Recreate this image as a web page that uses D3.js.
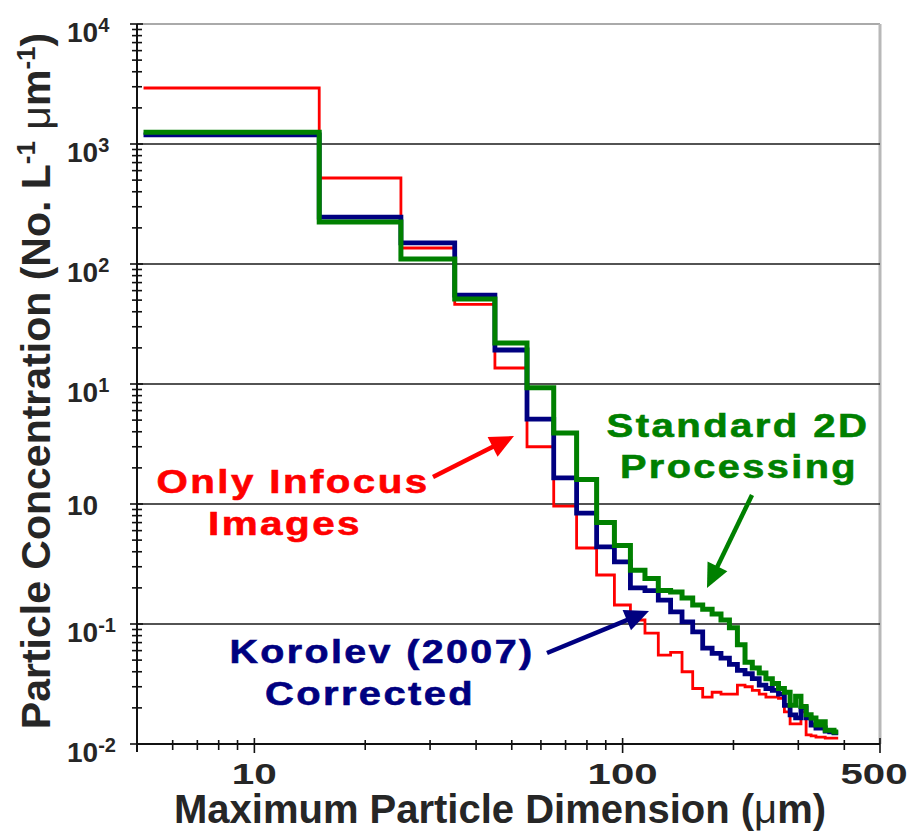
<!DOCTYPE html>
<html>
<head>
<meta charset="utf-8">
<title>Particle size distribution</title>
<style>
body { margin: 0; background: #fff; }
svg text { font-family: "Liberation Sans", Arial, sans-serif; font-weight: bold; }
.grid { stroke: #1a1a1a; stroke-width: 1.5; }
.axisline { stroke: #111; stroke-width: 2; }
.tick { stroke: #111; stroke-width: 1.6; }
.lbl { fill: #262626; }
</style>
</head>
<body>
<script src="https://cdn.jsdelivr.net/npm/d3@7"></script>
<script>
// bin edges (um) of the size bins
var edges = [5, 15, 25, 35, 45, 55, 65, 75, 85, 95, 105, 115, 125, 135, 145, 155, 165, 175, 185, 195,
             205, 215, 225, 235, 245, 255, 265, 275, 285, 295, 305, 315, 325, 335, 345, 355, 365, 375, 385];

// concentrations (No. L-1 um-1), one value per bin
var infocus = [2930, 521, 136, 46, 13.6, 3.0, 0.96, 0.43, 0.256, 0.144, 0.108, 0.084, 0.055, 0.058, 0.040,
               0.029, 0.0246, 0.027, 0.026, 0.026, 0.031, 0.030, 0.028, 0.026, 0.0246, 0.0246, 0.024,
               0.0185, 0.0147, 0.0147, 0.0185, 0.0119, 0.0117, 0.0114, 0.0114, 0.0112, 0.0112, 0.0112];
var korolev = [1190, 246, 150, 55, 19.2, 5.1, 1.65, 0.84, 0.44, 0.33, 0.20, 0.19, 0.158, 0.126, 0.104,
               0.086, 0.063, 0.057, 0.052, 0.046, 0.041, 0.0385, 0.035, 0.031, 0.029, 0.028, 0.026,
               0.021, 0.0175, 0.0165, 0.020, 0.0165, 0.0144, 0.0136, 0.0136, 0.0128, 0.0126, 0.0124];
var standard = [1250, 224, 110, 51, 22, 9.3, 3.9, 1.6, 0.70, 0.45, 0.28, 0.24, 0.19, 0.185, 0.165,
                0.144, 0.133, 0.121, 0.108, 0.093, 0.067, 0.048, 0.043, 0.039, 0.035, 0.032, 0.029,
                0.027, 0.021, 0.025, 0.0205, 0.0175, 0.0165, 0.0144, 0.0153, 0.013, 0.013, 0.0126];

var yTickVals = [1e4, 1e3, 1e2, 1e1, 1, 0.1, 0.01];
var yTickSup = ["4", "3", "2", "1", "", "-1", "-2"];
var xTickVals = [10, 100, 500];
var xTickLabels = ["10", "100", "500"];
var xMinor = [6, 7, 8, 9, 20, 30, 40, 50, 60, 70, 80, 90, 200, 300, 400];

var width = 914, height = 834;
var plotL = 137, plotR = 880, plotT = 24, plotB = 744;

var svg = d3.select("body").append("svg")
	.attr("width", width)
	.attr("height", height);

var x = d3.scaleLog().domain([4.8, 500]).range([plotL, plotR]);
var y = d3.scaleLog().domain([0.01, 10000]).range([plotB, plotT]);

// frame: gray top + right, black grid lines
svg.append("line").attr("x1", plotL).attr("x2", plotR).attr("y1", plotT).attr("y2", plotT)
	.attr("stroke", "#aaa").attr("stroke-width", 2);
svg.append("line").attr("x1", plotR).attr("x2", plotR).attr("y1", plotT).attr("y2", plotB)
	.attr("stroke", "#b8b8b8").attr("stroke-width", 3);

svg.selectAll(".grid")
	.data(yTickVals.slice(1, -1))
	.enter().append("line")
	.attr("class", "grid")
	.attr("x1", plotL).attr("x2", plotR)
	.attr("y1", function(d){ return y(d); })
	.attr("y2", function(d){ return y(d); });

// y axis with log ticks
svg.append("line").attr("class", "axisline")
	.attr("x1", plotL).attr("x2", plotL).attr("y1", plotT).attr("y2", plotB + 8);
var yMinor = [];
for (var p = -2; p < 4; p++) {
	for (var m = 2; m <= 9; m++) yMinor.push(m * Math.pow(10, p));
}
svg.selectAll(".ytick")
	.data(yMinor.concat(yTickVals))
	.enter().append("line")
	.attr("class", "tick")
	.attr("x1", function(d){ return yTickVals.indexOf(d) >= 0 ? plotL - 7 : plotL - 5; })
	.attr("x2", function(d){ return yTickVals.indexOf(d) >= 0 ? plotL + 6 : plotL + 5; })
	.attr("y1", function(d){ return y(d); })
	.attr("y2", function(d){ return y(d); });

var ylab = svg.selectAll(".ylab")
	.data(yTickVals)
	.enter().append("text")
	.attr("class", "lbl")
	.attr("x", 67)
	.attr("y", function(d, i){ return y(d) + (yTickSup[i] ? 18 : 11); })
	.attr("font-size", 28);
ylab.append("tspan").text("10");
ylab.append("tspan")
	.attr("font-size", 20)
	.attr("dy", -10)
	.text(function(d, i){ return yTickSup[i]; });

// x axis
svg.append("line").attr("class", "axisline")
	.attr("x1", plotL).attr("x2", plotR).attr("y1", plotB).attr("y2", plotB);
svg.selectAll(".xminor")
	.data(xMinor)
	.enter().append("line")
	.attr("class", "tick")
	.attr("x1", function(d){ return x(d); }).attr("x2", function(d){ return x(d); })
	.attr("y1", plotB - 4).attr("y2", plotB + 6);
svg.selectAll(".xmajor")
	.data(xTickVals)
	.enter().append("line")
	.attr("class", "tick")
	.attr("x1", function(d){ return x(d); }).attr("x2", function(d){ return x(d); })
	.attr("y1", plotB - 6).attr("y2", plotB + 9);
svg.selectAll(".xlab")
	.data(xTickVals)
	.enter().append("text")
	.attr("class", "lbl")
	.attr("x", function(d, i){ return x(d) - (i == 2 ? 6 : 0); })
	.attr("y", 784)
	.attr("font-size", 30)
	.attr("text-anchor", "middle")
	.attr("textLength", function(d, i){ return [45, 70, 67][i]; })
	.attr("lengthAdjust", "spacingAndGlyphs")
	.text(function(d, i){ return xTickLabels[i]; });

// axis titles
var xt = svg.append("text").attr("class", "lbl")
	.attr("x", 500).attr("y", 823)
	.attr("font-size", 40)
	.attr("text-anchor", "middle");
xt.append("tspan").text("Maximum Particle Dimension (");
xt.append("tspan").attr("font-weight", "normal").text("\u03bc");
xt.append("tspan").text("m)");

var yt = svg.append("text").attr("class", "lbl")
	.attr("transform", "translate(50,381) rotate(-90)")
	.attr("font-size", 41)
	.attr("text-anchor", "middle");
yt.append("tspan").text("Particle Concentration (No. L");
yt.append("tspan").attr("font-size", 26).attr("dy", -15).text("-1");
yt.append("tspan").attr("dy", 15).attr("font-weight", "normal").text(" \u03bc");
yt.append("tspan").text("m");
yt.append("tspan").attr("font-size", 26).attr("dy", -15).text("-1");
yt.append("tspan").attr("dy", 15).text(")");

// step curves
var step = d3.line()
	.x(function(d){ return x(d[0]); })
	.y(function(d){ return y(d[1]); })
	.curve(d3.curveStepAfter);

function stepPoints(vals) {
	var pts = vals.map(function(v, i){ return [edges[i], v]; });
	pts.push([edges[vals.length], vals[vals.length - 1]]);
	return pts;
}

var series = [
	{ vals: infocus, color: "#ff0000", w: 2.8 },
	{ vals: korolev, color: "#000080", w: 4.8 },
	{ vals: standard, color: "#008000", w: 5 }
];
svg.selectAll(".series")
	.data(series)
	.enter().append("path")
	.attr("d", function(d){ return step(stepPoints(d.vals)); })
	.attr("fill", "none")
	.attr("stroke", function(d){ return d.color; })
	.attr("stroke-width", function(d){ return d.w; })
	.attr("stroke-linejoin", "miter");

// annotations
function arrow(x1, y1, x2, y2, color) {
	var dx = x2 - x1, dy = y2 - y1, len = Math.sqrt(dx * dx + dy * dy);
	var ux = dx / len, uy = dy / len, hl = 24, hw = 11;
	var bx = x2 - ux * hl, by = y2 - uy * hl;
	svg.append("line")
		.attr("x1", x1).attr("y1", y1).attr("x2", bx + ux * 2).attr("y2", by + uy * 2)
		.attr("stroke", color).attr("stroke-width", 4.5);
	svg.append("polygon")
		.attr("points", [[x2, y2], [bx - uy * hw, by + ux * hw], [bx + uy * hw, by - ux * hw]].join(" "))
		.attr("fill", color);
}

function label(lines, color) {
	lines.forEach(function(l){
		svg.append("text")
			.attr("x", l[0]).attr("y", l[1])
			.attr("font-size", 33)
			.attr("letter-spacing", 2)
			.attr("text-anchor", "middle")
			.attr("fill", color)
			.attr("stroke", color)
			.attr("stroke-width", 0.6)
			.attr("textLength", l[3])
			.attr("lengthAdjust", "spacingAndGlyphs")
			.text(l[2]);
	});
}

label([[293, 493, "Only Infocus", 273], [285, 535, "Images", 154]], "#ff0000");
arrow(433, 477, 514, 436, "#ff0000");

label([[738, 437, "Standard 2D", 263], [739, 478, "Processing", 238]], "#008000");
arrow(752, 495, 707, 588, "#008000");

label([[382, 663, "Korolev (2007)", 305], [370, 705, "Corrected", 210]], "#000080");
arrow(547, 653, 649, 611, "#000080");
</script>
</body>
</html>
